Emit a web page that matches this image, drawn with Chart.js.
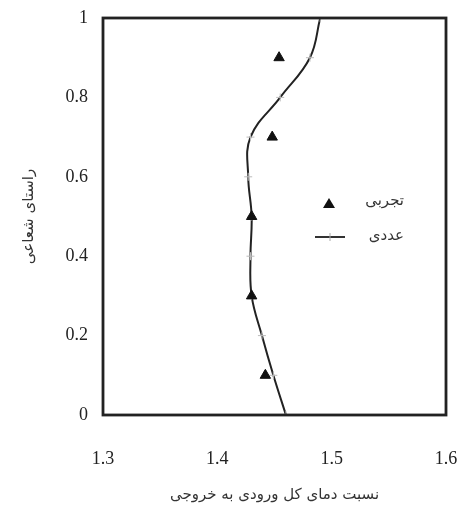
<!DOCTYPE html>
<html>
<head>
<meta charset="utf-8">
<script src="https://cdn.jsdelivr.net/npm/chart.js@4/dist/chart.umd.min.js"></script>
<style>
    html, body { margin: 0; padding: 0; background: #fff; }
    #wrap { width: 465px; height: 509px; }
</style>
</head>
<body>
<div id="wrap"><canvas id="chart" width="465" height="509"></canvas></div>
<script>
// numerical curve (عددی)
const radialNum = [0, 0.1, 0.2, 0.3, 0.4, 0.5, 0.6, 0.7, 0.8, 0.9, 1];
const ratioNum = [1.460, 1.449, 1.439, 1.430, 1.429, 1.430, 1.427, 1.429, 1.455, 1.481, 1.490];

// experimental points (تجربی)
const radialExp = [0.1, 0.3, 0.5, 0.7, 0.9];
const ratioExp = [1.442, 1.430, 1.430, 1.448, 1.454];

const xTicks = [1.3, 1.4, 1.5, 1.6];
const yTicks = [0, 0.2, 0.4, 0.6, 0.8, 1];

const labelExp = 'تجربی';
const labelNum = 'عددی';
const xTitle = 'نسبت دمای کل ورودی به خروجی';
const yTitle = 'راستای شعاعی';

const numPoints = radialNum.map((y, i) => ({ x: ratioNum[i], y: y }));
const expPoints = radialExp.map((y, i) => ({ x: ratioExp[i], y: y }));

const tickFont = { family: "'Liberation Serif', serif", size: 18 };
const titleFont = { family: "'DejaVu Sans', sans-serif", size: 15 };

// frame around the plot area
const boxPlugin = {
    id: 'box',
    afterDraw(chart) {
        const { ctx, chartArea: a } = chart;
        ctx.save();
        ctx.strokeStyle = '#222';
        ctx.lineWidth = 2.8;
        ctx.strokeRect(a.left, a.top, a.right - a.left, a.bottom - a.top);
        ctx.restore();
    }
};

// legend drawn inside the plot, like the original
const legendPlugin = {
    id: 'innerLegend',
    afterDraw(chart) {
        const ctx = chart.ctx;
        ctx.save();
        ctx.fillStyle = '#111';
        ctx.beginPath();
        ctx.moveTo(329, 198);
        ctx.lineTo(335, 208);
        ctx.lineTo(323, 208);
        ctx.closePath();
        ctx.fill();

        ctx.strokeStyle = '#333';
        ctx.lineWidth = 2;
        ctx.beginPath();
        ctx.moveTo(315, 237);
        ctx.lineTo(345, 237);
        ctx.stroke();
        ctx.strokeStyle = '#aaa';
        ctx.lineWidth = 1;
        ctx.beginPath();
        ctx.moveTo(330, 233);
        ctx.lineTo(330, 241);
        ctx.stroke();

        ctx.fillStyle = '#333';
        ctx.font = "15px 'DejaVu Sans', sans-serif";
        ctx.textAlign = 'right';
        ctx.textBaseline = 'middle';
        ctx.direction = 'rtl';
        ctx.fillText(labelExp, 404, 201);
        ctx.fillText(labelNum, 404, 236);
        ctx.restore();
    }
};

new Chart(document.getElementById('chart'), {
    type: 'scatter',
    data: {
        datasets: [{
            label: labelNum,
            data: numPoints,
            showLine: true,
            tension: 0.4,
            borderColor: '#222',
            borderWidth: 2,
            pointStyle: 'cross',
            pointRadius: 4,
            pointBorderColor: '#bbb',
            pointBorderWidth: 1,
            order: 2
        }, {
            label: labelExp,
            data: expPoints,
            showLine: false,
            pointStyle: 'triangle',
            pointRadius: 6,
            backgroundColor: '#111',
            borderColor: '#111',
            pointBorderWidth: 1,
            order: 1
        }]
    },
    options: {
        responsive: false,
        animation: false,
        layout: { padding: { top: 18, right: 19, left: 0, bottom: 0 } },
        plugins: {
            legend: { display: false },
            tooltip: { enabled: false }
        },
        scales: {
            x: {
                type: 'linear',
                min: 1.3,
                max: 1.6,
                afterBuildTicks: (scale) => { scale.ticks = xTicks.map(v => ({ value: v })); },
                afterFit: (scale) => {
                    scale.height = 94;
                    scale.paddingLeft = 0;
                    scale.paddingRight = 0;
                },
                grid: { display: false, drawTicks: false },
                border: { display: false },
                ticks: {
                    font: tickFont,
                    color: '#222',
                    padding: 33,
                    callback: (v) => v.toFixed(1)
                },
                title: {
                    display: true,
                    text: xTitle,
                    font: titleFont,
                    color: '#333',
                    padding: { top: 4, bottom: 5 }
                }
            },
            y: {
                type: 'linear',
                min: 0,
                max: 1,
                afterBuildTicks: (scale) => { scale.ticks = yTicks.map(v => ({ value: v })); },
                afterFit: (scale) => {
                    scale.width = 103;
                    scale.paddingTop = 0;
                    scale.paddingBottom = 0;
                },
                grid: { display: false, drawTicks: false },
                border: { display: false },
                ticks: {
                    font: tickFont,
                    color: '#222',
                    padding: 15,
                    callback: (v) => String(v)
                },
                title: {
                    display: true,
                    text: yTitle,
                    font: titleFont,
                    color: '#333',
                    padding: { top: 20, bottom: 4 }
                }
            }
        }
    },
    plugins: [boxPlugin, legendPlugin]
});
</script>
</body>
</html>
